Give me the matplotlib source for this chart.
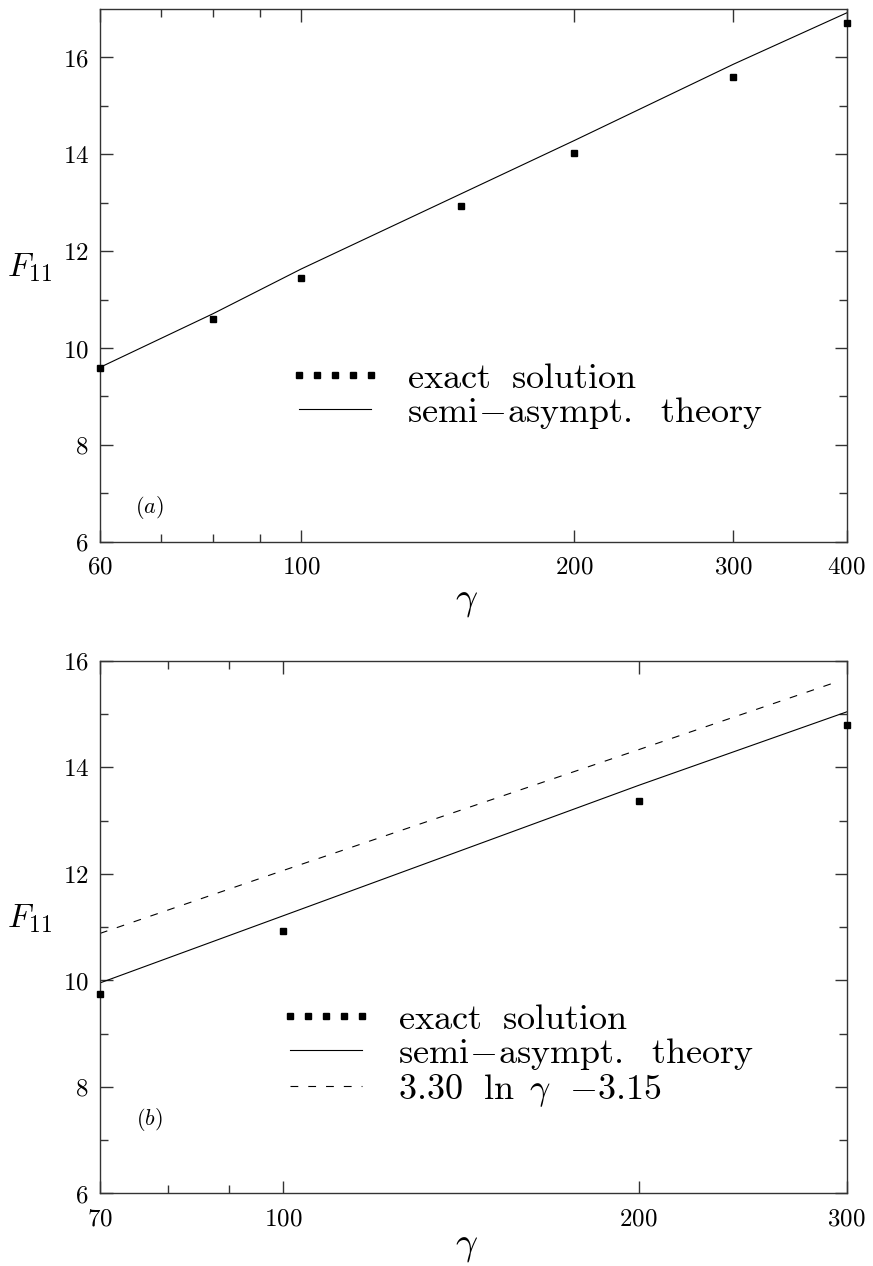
import matplotlib
matplotlib.use('Agg')
import matplotlib.pyplot as plt

# --- data ---
# panel (a)
gamma_a = [60, 80, 100, 150, 200, 300, 400]
exact_a = [9.59, 10.59, 11.44, 12.94, 14.02, 15.60, 16.71]
theory_a = [9.60, 10.71, 11.63, 13.18, 14.28, 15.86, 16.92]

# panel (b)
gamma_b = [70, 100, 200, 300]
exact_b = [9.74, 10.93, 13.37, 14.79]
theory_b = [9.95, 11.21, 13.66, 15.04]
fit_gamma_b = [70, 100, 200, 294]
fit_b = [10.88, 12.06, 14.33, 15.60]

xticks_a = [60, 100, 200, 300, 400]
xminor_a = [70, 80, 90]
xticks_b = [70, 100, 200, 300]
xminor_b = [80, 90]
yticks = [6, 8, 10, 12, 14, 16]
yminor = [7, 9, 11, 13, 15]

labels_a = [r'$\mathrm{exact\ \ solution}$',
            r'$\mathrm{semi\!-\!asympt.\ \ theory}$']
labels_b = labels_a + [r'$3.30\ \ \ln\ \gamma\ \ {-}3.15$']

plt.rcParams['mathtext.fontset'] = 'cm'
plt.rcParams['font.family'] = ['DejaVu Serif']

SPINE = '#333333'
TICK_FS = 18
LEG_FS = 26


def style_axes(ax, xlim, ylim, xt, xm, xlab_y):
    ax.set_xscale('log')
    ax.set_xlim(*xlim)
    ax.set_ylim(*ylim)
    ax.set_xticks(xt)
    ax.set_xticklabels([f'${t}$' for t in xt])
    ax.set_xticks(xm, minor=True)
    ax.set_xticklabels([], minor=True)
    ax.set_yticks(yticks)
    ax.set_yticklabels([f'${t}$' for t in yticks])
    ax.set_yticks(yminor, minor=True)
    ax.tick_params(which='both', direction='in', top=True, right=True,
                   colors=SPINE, labelcolor='black', labelsize=TICK_FS, width=1)
    ax.tick_params(which='major', length=9)
    ax.tick_params(which='minor', length=6)
    ax.tick_params(axis='x', which='major', pad=10)
    ax.tick_params(axis='y', which='major', pad=8)
    for s in ax.spines.values():
        s.set_color(SPINE)
        s.set_linewidth(1)
    ax.set_xlabel(r'$\gamma$', fontsize=28, va='center')
    ax.xaxis.set_label_coords(0.4915, xlab_y)
    ax.set_ylabel(r'$F_{11}$', fontsize=24, rotation=0, va='center', ha='center')
    ax.yaxis.set_label_coords(-0.095, 0.515)


fig = plt.figure(figsize=(8.73, 12.66), dpi=100)
ax1 = fig.add_axes([0.1145, 0.5721, 0.8554, 0.4208])
ax2 = fig.add_axes([0.1145, 0.0574, 0.8554, 0.4207])

# panel (a)
ax1.plot(gamma_a, exact_a, ls='none', marker='s', ms=5, color='black',
         label=labels_a[0], clip_on=False, zorder=3)
ax1.plot(gamma_a, theory_a, color='black', lw=0.8, label=labels_a[1])
style_axes(ax1, (60, 400), (6, 17), xticks_a, xminor_a, -0.11)
ax1.text(0.066, 0.065, r'$(a)$', transform=ax1.transAxes, fontsize=16,
         ha='center', va='center')
ax1.legend(loc='upper left', bbox_to_anchor=(0.252, 0.34), frameon=False,
           fontsize=LEG_FS, numpoints=5, handlelength=2.6, handletextpad=0.7,
           borderpad=0, borderaxespad=0, labelspacing=0.0)

# panel (b)
ax2.plot(gamma_b, exact_b, ls='none', marker='s', ms=5, color='black',
         label=labels_b[0], clip_on=False, zorder=3)
ax2.plot(gamma_b, theory_b, color='black', lw=0.8, label=labels_b[1])
ax2.plot(fit_gamma_b, fit_b, color='black', lw=0.8, dashes=(7, 9),
         label=labels_b[2])
style_axes(ax2, (70, 300), (6, 16), xticks_b, xminor_b, -0.098)
ax2.text(0.066, 0.138, r'$(b)$', transform=ax2.transAxes, fontsize=16,
         ha='center', va='center')
ax2.legend(loc='upper left', bbox_to_anchor=(0.24, 0.36), frameon=False,
           fontsize=LEG_FS, numpoints=5, handlelength=2.6, handletextpad=0.7,
           borderpad=0, borderaxespad=0, labelspacing=0.0)

fig.savefig('out.png', dpi=100)
